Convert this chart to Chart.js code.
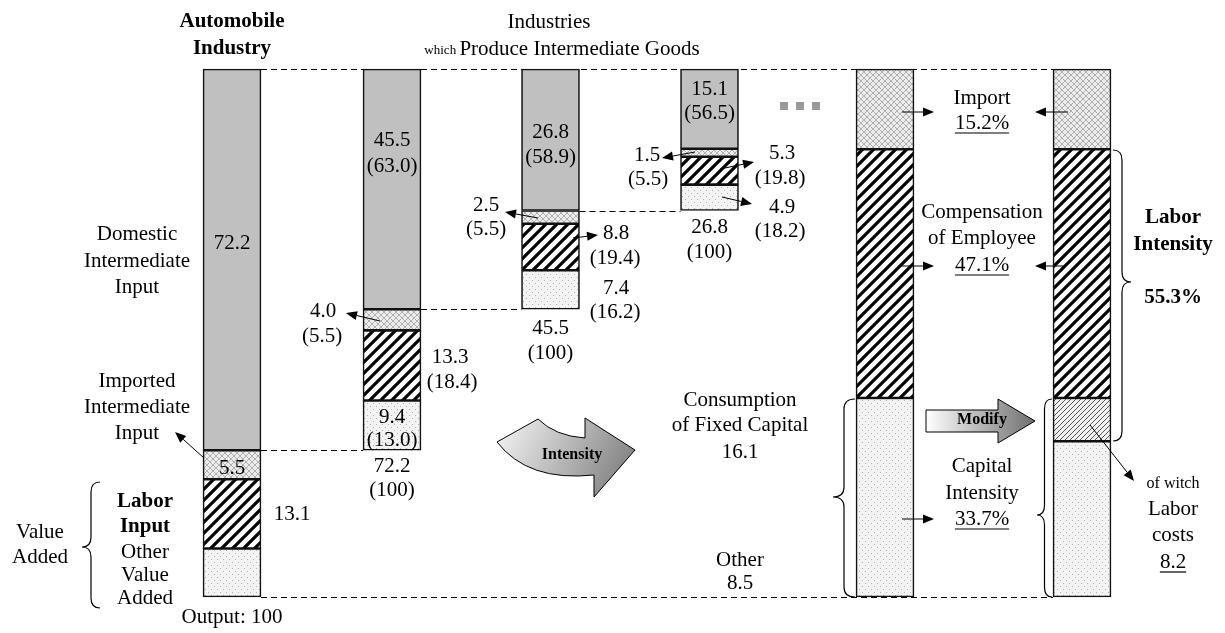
<!DOCTYPE html>
<html><head><meta charset="utf-8">
<script src="https://cdn.jsdelivr.net/npm/chart.js@4.4.0/dist/chart.umd.min.js"></script>
<style>html,body{margin:0;padding:0;background:#fff}#wrap{width:1225px;height:633px;position:relative}</style>
</head><body><div id="wrap"><canvas id="c"></canvas></div>
<script>
// ---- data (bottom -> top segments of each column) ----
const columns = ['Automobile Industry', 'Intermediate goods 1', 'Intermediate goods 2', 'Intermediate goods 3', 'Before modify', 'After modify'];
const otherValueAdded = [9.2, 9.4, 7.4, 4.9, 37.7, 29.5];
const laborCosts      = [0, 0, 0, 0, 0, 8.2];
const laborInput      = [13.1, 13.3, 8.8, 5.3, 47.1, 47.1];
const importedInput   = [5.5, 4.0, 2.5, 1.5, 15.2, 15.2];
const domesticInput   = [72.2, 45.5, 26.8, 15.1, 0, 0];
const shareDomestic   = ['', '(63.0)', '(58.9)', '(56.5)'];
const shareImported   = ['', '(5.5)', '(5.5)', '(5.5)'];
const shareLabor      = ['', '(18.4)', '(19.4)', '(19.8)'];
const shareOther      = ['', '(13.0)', '(16.2)', '(18.2)'];

// ---- layout ----
const COL_X = [232, 392, 550.5, 709.5, 885, 1082];
const BAR_W = 58;
const FONT = '"Liberation Serif", "Times New Roman", serif';

const segs = [otherValueAdded, laborCosts, laborInput, importedInput, domesticInput];
const totals = columns.map((_, i) => segs.reduce((s, a) => s + a[i], 0));
const bases = totals.map(t => 100 - t);

function tile(w, h, draw) {
  const c = document.createElement('canvas'); c.width = w; c.height = h;
  const g = c.getContext('2d'); draw(g, w, h);
  return g.createPattern(c, 'repeat');
}
const ctx0 = document.getElementById('c').getContext('2d');
const patDotted = tile(6, 6, (g) => { g.fillStyle = '#f3f3f3'; g.fillRect(0,0,6,6); g.fillStyle = '#b0b0b0'; g.fillRect(1,1,1,1); g.fillRect(4,4,1,1); });
const patCross = tile(6, 6, (g) => { g.fillStyle = '#ececec'; g.fillRect(0,0,6,6); g.strokeStyle = '#b0b0b0'; g.lineWidth = 1;
  g.beginPath(); g.moveTo(0,0); g.lineTo(6,6); g.moveTo(6,0); g.lineTo(0,6); g.stroke(); });
const patHatch = tile(11, 11, (g) => { g.fillStyle = '#fff'; g.fillRect(0,0,11,11); g.strokeStyle = '#000'; g.lineWidth = 3.2;
  g.beginPath(); g.moveTo(-1,12); g.lineTo(12,-1); g.moveTo(-6.5,6.5); g.lineTo(6.5,-6.5); g.moveTo(4.5,17.5); g.lineTo(17.5,4.5); g.stroke(); });
const patFine = tile(5, 5, (g) => { g.fillStyle = '#f2f2f2'; g.fillRect(0,0,5,5); g.strokeStyle = '#444'; g.lineWidth = 0.9;
  g.beginPath(); g.moveTo(-1,6); g.lineTo(6,-1); g.moveTo(-3.5,3.5); g.lineTo(3.5,-3.5); g.moveTo(1.5,8.5); g.lineTo(8.5,1.5); g.stroke(); });
const fills = [patDotted, patFine, patHatch, patCross, '#c0c0c0'];
const names = ['Other value added', 'Labor costs', 'Labor input', 'Imported intermediate input', 'Domestic intermediate input'];

const datasets = segs.map((arr, k) => {
  const data = [];
  arr.forEach((v, i) => {
    if (!v) return;
    let start = bases[i];
    for (let j = 0; j < k; j++) start += segs[j][i];
    data.push({ x: COL_X[i], y: [start, start + v] });
  });
  return { label: names[k], backgroundColor: fills[k], data };
});

function T(ctx, s, x, y, o = {}) {
  ctx.save();
  ctx.font = (o.bold ? 'bold ' : '') + (o.size || 21) + 'px ' + FONT;
  ctx.fillStyle = '#000'; ctx.textAlign = o.align || 'center'; ctx.textBaseline = 'middle';
  ctx.fillText(s, x, y);
  if (o.u) {
    const w = ctx.measureText(s).width;
    ctx.lineWidth = 1.2; ctx.beginPath(); ctx.moveTo(x - w/2, y + 10); ctx.lineTo(x + w/2, y + 10); ctx.stroke();
  }
  ctx.restore();
}
function arrow(ctx, x1, y1, x2, y2) {
  const a = Math.atan2(y2 - y1, x2 - x1), L = 11, H = 4.5;
  ctx.save(); ctx.strokeStyle = '#000'; ctx.fillStyle = '#000'; ctx.lineWidth = 1;
  ctx.beginPath(); ctx.moveTo(x1, y1); ctx.lineTo(x2 - L*Math.cos(a), y2 - L*Math.sin(a)); ctx.stroke();
  ctx.beginPath(); ctx.moveTo(x2, y2);
  ctx.lineTo(x2 - L*Math.cos(a) + H*Math.sin(a), y2 - L*Math.sin(a) - H*Math.cos(a));
  ctx.lineTo(x2 - L*Math.cos(a) - H*Math.sin(a), y2 - L*Math.sin(a) + H*Math.cos(a));
  ctx.closePath(); ctx.fill(); ctx.restore();
}
function brace(ctx, x0, y1, y2, ym, w) {
  const xm = x0 - w/2, r = 10;
  ctx.save(); ctx.strokeStyle = '#000'; ctx.lineWidth = 1.2; ctx.beginPath();
  ctx.moveTo(x0, y1);
  ctx.quadraticCurveTo(xm, y1, xm, y1 + r);
  ctx.lineTo(xm, ym - r);
  ctx.quadraticCurveTo(xm, ym, x0 - w, ym);
  ctx.quadraticCurveTo(xm, ym, xm, ym + r);
  ctx.lineTo(xm, y2 - r);
  ctx.quadraticCurveTo(xm, y2, x0, y2);
  ctx.stroke(); ctx.restore();
}

const annot = {
  id: 'annot',
  beforeDatasetsDraw(chart) {
    const ctx = chart.ctx, xs = chart.scales.x, ys = chart.scales.y;
    const L = i => xs.getPixelForValue(COL_X[i]) - BAR_W/2, R = i => xs.getPixelForValue(COL_X[i]) + BAR_W/2;
    ctx.save(); ctx.strokeStyle = '#000'; ctx.lineWidth = 1.2; ctx.setLineDash([6, 4]);
    const line = (xa, xb, v) => { const y = Math.round(ys.getPixelForValue(v)) + 0.5; ctx.beginPath(); ctx.moveTo(xa, y); ctx.lineTo(xb, y); ctx.stroke(); };
    line(R(0), L(5), 100);
    line(R(0), L(5), 0);
    for (let i = 0; i < 3; i++) line(R(i), L(i + 1), bases[i + 1]);
    ctx.restore();
  },
  afterDatasetsDraw(chart) {
    const ctx = chart.ctx, xs = chart.scales.x;
    const cx = i => xs.getPixelForValue(COL_X[i]);
    // headings
    T(ctx, 'Automobile', cx(0), 22, {bold: true});
    T(ctx, 'Industry', cx(0), 49, {bold: true});
    T(ctx, 'Industries', 549, 22);
    ctx.save();
    ctx.font = '13px ' + FONT; const w1 = ctx.measureText('which ').width;
    ctx.font = '21px ' + FONT; const w2 = ctx.measureText('Produce Intermediate Goods').width;
    ctx.restore();
    const sx = 562 - (w1 + w2) / 2;
    T(ctx, 'which ', sx, 51, {size: 13, align: 'left'});
    T(ctx, 'Produce Intermediate Goods', sx + w1, 49, {align: 'left'});
    // column 1
    T(ctx, String(domesticInput[0]), cx(0), 243);
    T(ctx, String(importedInput[0]), cx(0), 468);
    T(ctx, String(laborInput[0]), 292, 514);
    T(ctx, 'Domestic', 137, 234); T(ctx, 'Intermediate', 137, 261); T(ctx, 'Input', 137, 287);
    T(ctx, 'Imported', 137, 381); T(ctx, 'Intermediate', 137, 407); T(ctx, 'Input', 137, 433);
    T(ctx, 'Labor', 145, 502, {bold: true}); T(ctx, 'Input', 145, 527, {bold: true});
    T(ctx, 'Other', 145, 552); T(ctx, 'Value', 145, 575); T(ctx, 'Added', 145, 598);
    T(ctx, 'Value', 40, 532); T(ctx, 'Added', 40, 557);
    T(ctx, 'Output: 100', cx(0), 617);
    arrow(ctx, 204, 458, 175, 432);
    brace(ctx, 100, 482, 608, 547, 18);
    // column 2
    T(ctx, String(domesticInput[1]), cx(1), 140); T(ctx, shareDomestic[1], cx(1), 166);
    T(ctx, importedInput[1].toFixed(1), 323, 311); T(ctx, shareImported[1], 322, 336);
    T(ctx, String(laborInput[1]), 450, 357); T(ctx, shareLabor[1], 452, 382);
    T(ctx, String(otherValueAdded[1]), cx(1), 417); T(ctx, shareOther[1], cx(1), 440);
    T(ctx, totals[1].toFixed(1), cx(1), 466); T(ctx, '(100)', cx(1), 490);
    arrow(ctx, 380, 321, 346, 313);
    // column 3
    T(ctx, String(domesticInput[2]), cx(2), 132); T(ctx, shareDomestic[2], cx(2), 157);
    T(ctx, String(importedInput[2]), 486, 205); T(ctx, shareImported[2], 486, 229);
    T(ctx, String(laborInput[2]), 616, 233); T(ctx, shareLabor[2], 615, 258);
    T(ctx, String(otherValueAdded[2]), 616, 288); T(ctx, shareOther[2], 615, 312);
    T(ctx, totals[2].toFixed(1), cx(2), 328); T(ctx, '(100)', cx(2), 353);
    arrow(ctx, 538, 218, 505, 212);
    arrow(ctx, 573, 238, 598, 235);
    // column 4
    T(ctx, String(domesticInput[3]), cx(3), 89); T(ctx, shareDomestic[3], cx(3), 113);
    T(ctx, String(importedInput[3]), 647, 155); T(ctx, shareImported[3], 648, 179);
    T(ctx, String(laborInput[3]), 782, 153); T(ctx, shareLabor[3], 780, 178);
    T(ctx, String(otherValueAdded[3]), 782, 207); T(ctx, shareOther[3], 780, 231);
    T(ctx, totals[3].toFixed(1), cx(3), 227); T(ctx, '(100)', cx(3), 252);
    arrow(ctx, 695, 152, 662, 158);
    arrow(ctx, 720, 169, 754, 162);
    arrow(ctx, 722, 197, 752, 204);
    ctx.save(); ctx.fillStyle = '#9a9a9a';
    [780, 796, 812].forEach(x => ctx.fillRect(x, 102, 8, 8)); ctx.restore();
    // middle texts
    T(ctx, 'Consumption', 740, 400); T(ctx, 'of Fixed Capital', 740, 425); T(ctx, '16.1', 740, 452);
    T(ctx, 'Other', 740, 560); T(ctx, '8.5', 740, 583);
    // right side
    T(ctx, 'Import', 982, 98); T(ctx, importedInput[4] + '%', 982, 123, {u: true});
    T(ctx, 'Compensation', 982, 212); T(ctx, 'of Employee', 982, 238); T(ctx, laborInput[4] + '%', 982, 265, {u: true});
    T(ctx, 'Capital', 982, 466); T(ctx, 'Intensity', 982, 493); T(ctx, '33.7%', 982, 519, {u: true});
    T(ctx, 'Labor', 1173, 218, {bold: true}); T(ctx, 'Intensity', 1173, 245, {bold: true});
    T(ctx, '55.3%', 1173, 298, {bold: true});
    T(ctx, 'of witch', 1173, 484, {size: 16}); T(ctx, 'Labor', 1173, 509); T(ctx, 'costs', 1173, 535);
    T(ctx, String(laborCosts[5]), 1173, 562, {u: true});
    arrow(ctx, 902, 112, 934, 112); arrow(ctx, 1068, 112, 1035, 112);
    arrow(ctx, 898, 266, 934, 266); arrow(ctx, 1063, 266, 1035, 266);
    arrow(ctx, 902, 519, 934, 519);
    arrow(ctx, 1090, 425, 1134, 481);
    brace(ctx, 855, 399, 597, 497, 22);
    brace(ctx, 1052, 399, 597, 515, 15);
    brace(ctx, 1113, 150, 441, 282, -18);
    // Intensity curved arrow
    ctx.save();
    let g = ctx.createLinearGradient(500, 420, 630, 490);
    g.addColorStop(0, '#f4f4f4'); g.addColorStop(1, '#7a7a7a');
    ctx.fillStyle = g; ctx.strokeStyle = '#000'; ctx.lineWidth = 1;
    ctx.beginPath();
    ctx.moveTo(497, 442); ctx.lineTo(538, 419);
    ctx.quadraticCurveTo(555, 436, 585, 438);
    ctx.lineTo(585, 418); ctx.lineTo(635, 450); ctx.lineTo(594, 497); ctx.lineTo(594, 475);
    ctx.quadraticCurveTo(528, 482, 497, 442);
    ctx.closePath(); ctx.fill(); ctx.stroke();
    ctx.restore();
    T(ctx, 'Intensity', 572, 455, {bold: true, size: 16});
    // Modify arrow
    ctx.save();
    g = ctx.createLinearGradient(926, 0, 1035, 0);
    g.addColorStop(0, '#ffffff'); g.addColorStop(1, '#6e6e6e');
    ctx.fillStyle = g; ctx.strokeStyle = '#000'; ctx.lineWidth = 1;
    ctx.beginPath();
    ctx.moveTo(926, 410); ctx.lineTo(998, 410); ctx.lineTo(998, 399); ctx.lineTo(1035, 421);
    ctx.lineTo(998, 443); ctx.lineTo(998, 432); ctx.lineTo(926, 432); ctx.closePath();
    ctx.fill(); ctx.stroke(); ctx.restore();
    T(ctx, 'Modify', 982, 420, {bold: true, size: 16});
  }
};

new Chart(ctx0, {
  type: 'bar',
  data: { datasets },
  options: {
    responsive: true, maintainAspectRatio: false, animation: false,
    layout: { padding: 0 },
    plugins: { legend: { display: false }, tooltip: { enabled: false } },
    datasets: { bar: { grouped: false, barThickness: BAR_W, borderWidth: 1.6, borderColor: '#111', borderSkipped: false } },
    scales: {
      x: { type: 'linear', min: 0, max: 1225, offset: false, display: false },
      y: { min: -6.82, max: 113.07, display: false }
    }
  },
  plugins: [annot]
});
</script></body></html>
